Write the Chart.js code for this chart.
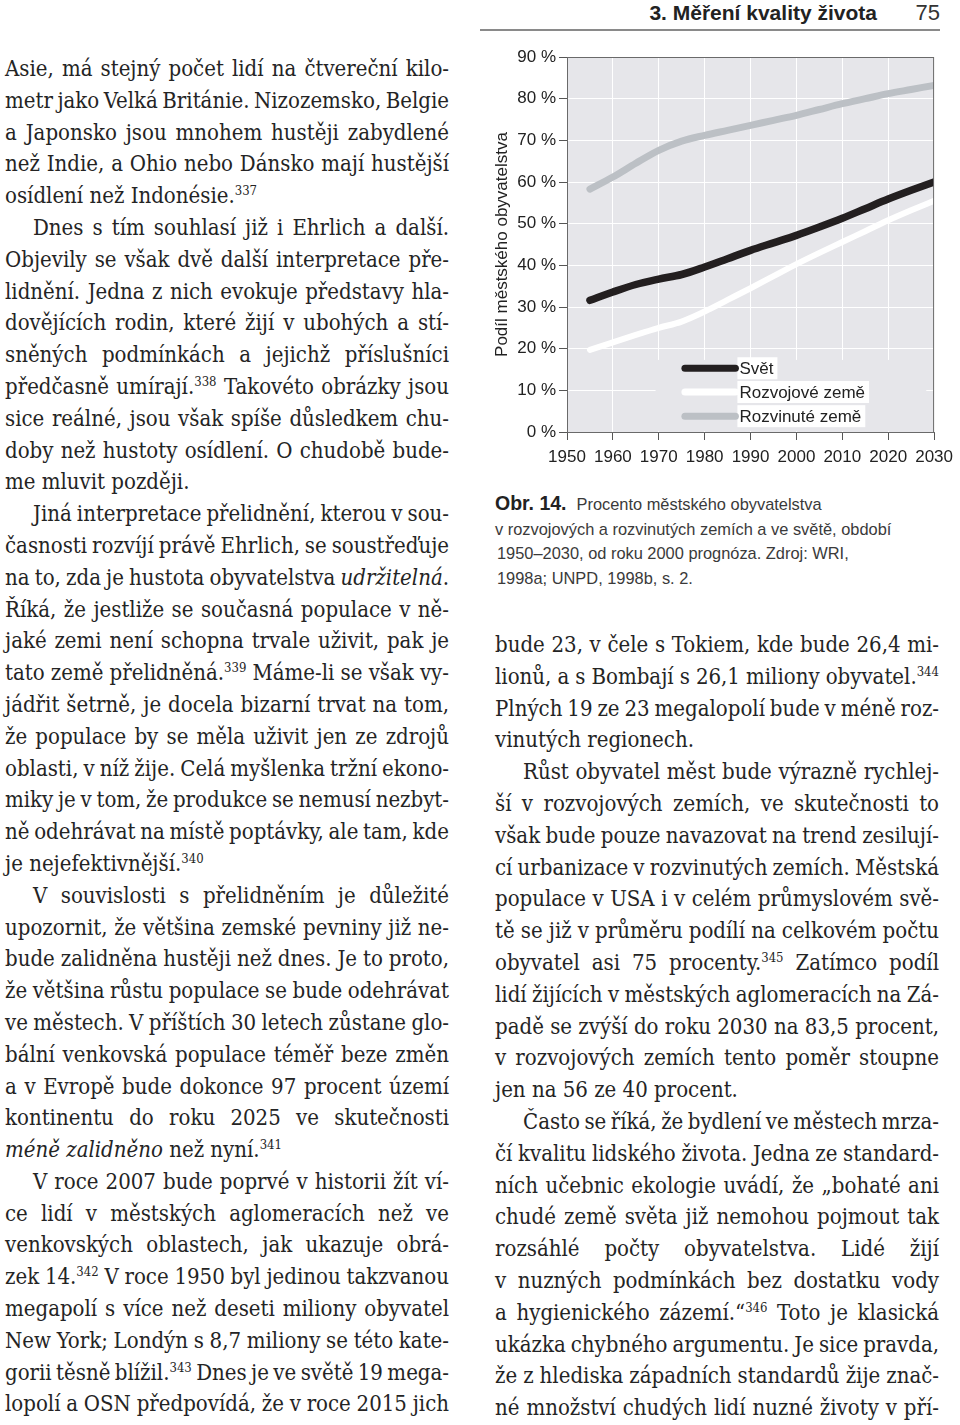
<!DOCTYPE html>
<html lang="cs">
<head>
<meta charset="utf-8">
<script src="https://cdn.jsdelivr.net/npm/chart.js@4.4.1/dist/chart.umd.min.js"></script>
<style>
  body { margin: 0; background: #fff; width: 960px; height: 1425px; position: relative; overflow: hidden; }
  .col { position: absolute; width: 444px; font-family: "DejaVu Serif Condensed", "DejaVu Serif", serif; font-stretch: condensed;
         font-size: 22px; color: #242424; }
  .col div { height: 31.8px; line-height: 31.8px; white-space: nowrap; }
  .in { text-indent: 28px; }
  sup { font-size: 13px; vertical-align: 8px; line-height: 0; }
  #head { position: absolute; top: 0; left: 480px; width: 460px; height: 29px; border-bottom: 2px solid #8a8a8a;
          font-family: "Liberation Sans", Arial, sans-serif; }
  #head .t { position: absolute; right: 63px; top: 1px; font-weight: bold; font-size: 21px; color: #222; }
  #head .n { position: absolute; right: 0; top: 0px; font-size: 22px; color: #333; }
  #cap { position: absolute; left: 495px; top: 491px; font-family: "Liberation Sans", Arial, sans-serif; font-size: 16.4px;
         line-height: 24.7px; color: #3a3a3a; }
  #cap b { color: #222; font-size: 19.5px; margin-right: 10px; }
  #cap .p { padding-left: 2px; }
  #chartBox { position: absolute; left: 480px; top: 40px; width: 480px; height: 440px; }
</style>
</head>
<body>
<div id="head"><span class="t">3. Měření kvality života</span><span class="n">75</span></div>

<div class="col" style="left:5px; top:53px;">
  <div class="j">Asie, má stejný počet lidí na čtvereční kilo-</div>
  <div class="j">metr jako Velká Británie. Nizozemsko, Belgie</div>
  <div class="j">a Japonsko jsou mnohem hustěji zabydlené</div>
  <div class="j">než Indie, a Ohio nebo Dánsko mají hustější</div>
  <div>osídlení než Indonésie.<sup>337</sup></div>
  <div class="j in">Dnes s tím souhlasí již i Ehrlich a další.</div>
  <div class="j">Objevily se však dvě další interpretace pře-</div>
  <div class="j">lidnění. Jedna z nich evokuje představy hla-</div>
  <div class="j">dovějících rodin, které žijí v ubohých a stí-</div>
  <div class="j">sněných podmínkách a jejichž příslušníci</div>
  <div class="j">předčasně umírají.<sup>338</sup> Takovéto obrázky jsou</div>
  <div class="j">sice reálné, jsou však spíše důsledkem chu-</div>
  <div class="j">doby než hustoty osídlení. O chudobě bude-</div>
  <div>me mluvit později.</div>
  <div class="j in">Jiná interpretace přelidnění, kterou v sou-</div>
  <div class="j">časnosti rozvíjí právě Ehrlich, se soustřeďuje</div>
  <div class="j">na to, zda je hustota obyvatelstva <i>udržitelná</i>.</div>
  <div class="j">Říká, že jestliže se současná populace v ně-</div>
  <div class="j">jaké zemi není schopna trvale uživit, pak je</div>
  <div class="j">tato země přelidněná.<sup>339</sup> Máme-li se však vy-</div>
  <div class="j">jádřit šetrně, je docela bizarní trvat na tom,</div>
  <div class="j">že populace by se měla uživit jen ze zdrojů</div>
  <div class="j">oblasti, v níž žije. Celá myšlenka tržní ekono-</div>
  <div class="j">miky je v tom, že produkce se nemusí nezbyt-</div>
  <div class="j">ně odehrávat na místě poptávky, ale tam, kde</div>
  <div>je nejefektivnější.<sup>340</sup></div>
  <div class="j in">V souvislosti s přelidněním je důležité</div>
  <div class="j">upozornit, že většina zemské pevniny již ne-</div>
  <div class="j">bude zalidněna hustěji než dnes. Je to proto,</div>
  <div class="j">že většina růstu populace se bude odehrávat</div>
  <div class="j">ve městech. V příštích 30 letech zůstane glo-</div>
  <div class="j">bální venkovská populace téměř beze změn</div>
  <div class="j">a v Evropě bude dokonce 97 procent území</div>
  <div class="j">kontinentu do roku 2025 ve skutečnosti</div>
  <div><i>méně zalidněno</i> než nyní.<sup>341</sup></div>
  <div class="j in">V roce 2007 bude poprvé v historii žít ví-</div>
  <div class="j">ce lidí v městských aglomeracích než ve</div>
  <div class="j">venkovských oblastech, jak ukazuje obrá-</div>
  <div class="j">zek 14.<sup>342</sup> V roce 1950 byl jedinou takzvanou</div>
  <div class="j">megapolí s více než deseti miliony obyvatel</div>
  <div class="j">New York; Londýn s 8,7 miliony se této kate-</div>
  <div class="j">gorii těsně blížil.<sup>343</sup> Dnes je ve světě 19 mega-</div>
  <div class="j">lopolí a OSN předpovídá, že v roce 2015 jich</div>
</div>

<div id="chartBox"><canvas id="chart" width="480" height="440"></canvas></div>

<div id="cap">
  <b>Obr. 14.</b>Procento městského obyvatelstva<br>
  v rozvojových a rozvinutých zemích a ve světě, období<br>
  <span class="p">1950–2030, od roku 2000 prognóza. Zdroj: WRI,</span><br>
  <span class="p">1998a; UNPD, 1998b, s. 2.</span>
</div>

<div class="col" style="left:495px; top:629px;">
  <div class="j">bude 23, v čele s Tokiem, kde bude 26,4 mi-</div>
  <div class="j">lionů, a s Bombají s 26,1 miliony obyvatel.<sup>344</sup></div>
  <div class="j">Plných 19 ze 23 megalopolí bude v méně roz-</div>
  <div>vinutých regionech.</div>
  <div class="j in">Růst obyvatel měst bude výrazně rychlej-</div>
  <div class="j">ší v rozvojových zemích, ve skutečnosti to</div>
  <div class="j">však bude pouze navazovat na trend zesilují-</div>
  <div class="j">cí urbanizace v rozvinutých zemích. Městská</div>
  <div class="j">populace v USA i v celém průmyslovém svě-</div>
  <div class="j">tě se již v průměru podílí na celkovém počtu</div>
  <div class="j">obyvatel asi 75 procenty.<sup>345</sup> Zatímco podíl</div>
  <div class="j">lidí žijících v městských aglomeracích na Zá-</div>
  <div class="j">padě se zvýší do roku 2030 na 83,5 procent,</div>
  <div class="j">v rozvojových zemích tento poměr stoupne</div>
  <div>jen na 56 ze 40 procent.</div>
  <div class="j in">Často se říká, že bydlení ve městech mrza-</div>
  <div class="j">čí kvalitu lidského života. Jedna ze standard-</div>
  <div class="j">ních učebnic ekologie uvádí, že „bohaté ani</div>
  <div class="j">chudé země světa již nemohou pojmout tak</div>
  <div class="j">rozsáhlé počty obyvatelstva. Lidé žijí</div>
  <div class="j">v nuzných podmínkách bez dostatku vody</div>
  <div class="j">a hygienického zázemí.“<sup>346</sup> Toto je klasická</div>
  <div class="j">ukázka chybného argumentu. Je sice pravda,</div>
  <div class="j">že z hlediska západních standardů žije znač-</div>
  <div class="j">né množství chudých lidí nuzné životy v pří-</div>
</div>

<script>
// roky a podíly městského obyvatelstva (%)
const years = [1955, 1960, 1965, 1970, 1975, 1980, 1985, 1990, 1995, 2000, 2005, 2010, 2015, 2020, 2025, 2030];
const svet = [31.6, 33.6, 35.4, 36.7, 37.8, 39.6, 41.6, 43.6, 45.4, 47.2, 49.2, 51.3, 53.6, 55.9, 58.0, 60.0];
const rozvojove = [19.7, 21.5, 23.3, 25.0, 26.5, 28.9, 31.7, 34.5, 37.4, 40.3, 43.0, 45.6, 48.2, 50.8, 53.2, 55.5];
const rozvinute = [58.3, 61.2, 64.5, 67.6, 69.8, 71.2, 72.4, 73.6, 74.8, 76.0, 77.4, 78.8, 80.0, 81.2, 82.2, 83.2];
const seriesNames = ["Svět", "Rozvojové země", "Rozvinuté země"];
const xTicks = [1950, 1960, 1970, 1980, 1990, 2000, 2010, 2020, 2030];
const yTitle = "Podíl městského obyvatelstva";

const plotBg = "#e6e6ea";
const colors = ["#231f20", "#ffffff", "#bcc0c5"];
const sansFont = "'Liberation Sans', Arial, sans-serif";

// justify each printed line by spreading the word spaces
document.querySelectorAll(".col").forEach(col => {
    const full = col.clientWidth;
    col.querySelectorAll("div").forEach(line => {
        line.innerHTML = "<span>" + line.innerHTML + "</span>";
        const span = line.firstChild;
        const indent = line.classList.contains("in") ? 28 : 0;
        const w = span.getBoundingClientRect().width;
        const gaps = (span.textContent.match(/ /g) || []).length;
        if (line.classList.contains("j") && gaps > 0) {
            line.style.wordSpacing = ((full - indent - w) / gaps) + "px";
        } else if (w + indent > full) {
            line.style.letterSpacing = ((full - indent - w) / span.textContent.length) + "px";
        }
    });
});

function toPoints(vals) {
    return years.map((y, i) => ({ x: y, y: vals[i] }));
}

// grey background of the plot + frame
const plotFrame = {
    id: "plotFrame",
    beforeDraw(chart) {
        const { ctx, chartArea: a } = chart;
        ctx.save();
        ctx.fillStyle = plotBg;
        ctx.fillRect(a.left, a.top, a.right - a.left, a.bottom - a.top);
        ctx.restore();
    },
    beforeDatasetsDraw(chart) {
        // legend area hides the grid
        const { ctx, scales: { x, y } } = chart;
        ctx.save();
        ctx.fillStyle = plotBg;
        const l = x.getPixelForValue(1969.3), r = x.getPixelForValue(2028.3);
        const t = y.getPixelForValue(17.3), b = y.getPixelForValue(0);
        ctx.fillRect(l, t, r - l, b - t - 1);
        ctx.restore();
    },
    afterDraw(chart) {
        const { ctx, chartArea: a } = chart;
        ctx.save();
        ctx.strokeStyle = "#6a6a6a";
        ctx.lineWidth = 1;
        ctx.strokeRect(a.left + 0.5, a.top + 0.5, a.right - a.left - 1, a.bottom - a.top);
        ctx.restore();
    }
};

// legend drawn inside the plot
const innerLegend = {
    id: "innerLegend",
    afterDatasetsDraw(chart) {
        const { ctx, scales: { x, y } } = chart;
        const x0 = x.getPixelForValue(1975.7), x1 = x.getPixelForValue(1986.7);
        const rows = [15.3, 9.6, 3.8];
        ctx.save();
        ctx.font = "17px " + sansFont;
        ctx.textBaseline = "middle";
        rows.forEach((v, i) => {
            const py = y.getPixelForValue(v);
            const w = ctx.measureText(seriesNames[i]).width;
            ctx.fillStyle = "#ffffff";
            ctx.fillRect(x1 + 2, py - 11, w + 6, 22);
            ctx.strokeStyle = colors[i];
            ctx.lineWidth = 7;
            ctx.lineCap = "round";
            ctx.beginPath();
            ctx.moveTo(x0, py);
            ctx.lineTo(x1, py);
            ctx.stroke();
            ctx.fillStyle = "#222";
            ctx.fillText(seriesNames[i], x1 + 4, py + 1);
        });
        ctx.restore();
    }
};

const lineStyle = {
    pointRadius: 0,
    borderWidth: 7,
    borderCapStyle: "round",
    borderJoinStyle: "round",
    cubicInterpolationMode: "monotone",
    fill: false
};

new Chart(document.getElementById("chart"), {
    type: "line",
    data: {
        datasets: [
            { label: seriesNames[2], data: toPoints(rozvinute), borderColor: colors[2], ...lineStyle },
            { label: seriesNames[1], data: toPoints(rozvojove), borderColor: colors[1], ...lineStyle, borderWidth: 6 },
            { label: seriesNames[0], data: toPoints(svet), borderColor: colors[0], ...lineStyle, borderWidth: 7.5 }
        ]
    },
    options: {
        responsive: false,
        animation: false,
        devicePixelRatio: 1,
        layout: { padding: { top: 17, right: 20, left: 0, bottom: 0 } },
        plugins: { legend: { display: false }, tooltip: { enabled: false } },
        scales: {
            x: {
                type: "linear",
                min: 1950,
                max: 2030,
                afterBuildTicks: (s) => { s.ticks = xTicks.map(v => ({ value: v })); },
                afterFit: (s) => { s.height = 48; },
                grid: { color: "#ffffff", lineWidth: 1, tickLength: 8, tickColor: "#555", drawTicks: true },
                border: { color: "#6a6a6a", width: 1 },
                ticks: { color: "#222", font: { family: sansFont, size: 17 }, padding: 7, maxRotation: 0,
                         callback: (v) => String(v) }
            },
            y: {
                min: 0,
                max: 90,
                ticks: { stepSize: 10, color: "#222", font: { family: sansFont, size: 17 }, padding: 3,
                         callback: (v) => v + " %" },
                afterFit: (s) => { s.width = 87; },
                grid: { color: "#ffffff", lineWidth: 1, tickLength: 8, tickColor: "#555" },
                border: { color: "#6a6a6a", width: 1 },
                title: { display: true, text: yTitle, color: "#222", font: { family: sansFont, size: 17 },
                         padding: { top: 12, bottom: 0 } }
            }
        }
    },
    plugins: [plotFrame, innerLegend]
});
</script>
</body>
</html>
